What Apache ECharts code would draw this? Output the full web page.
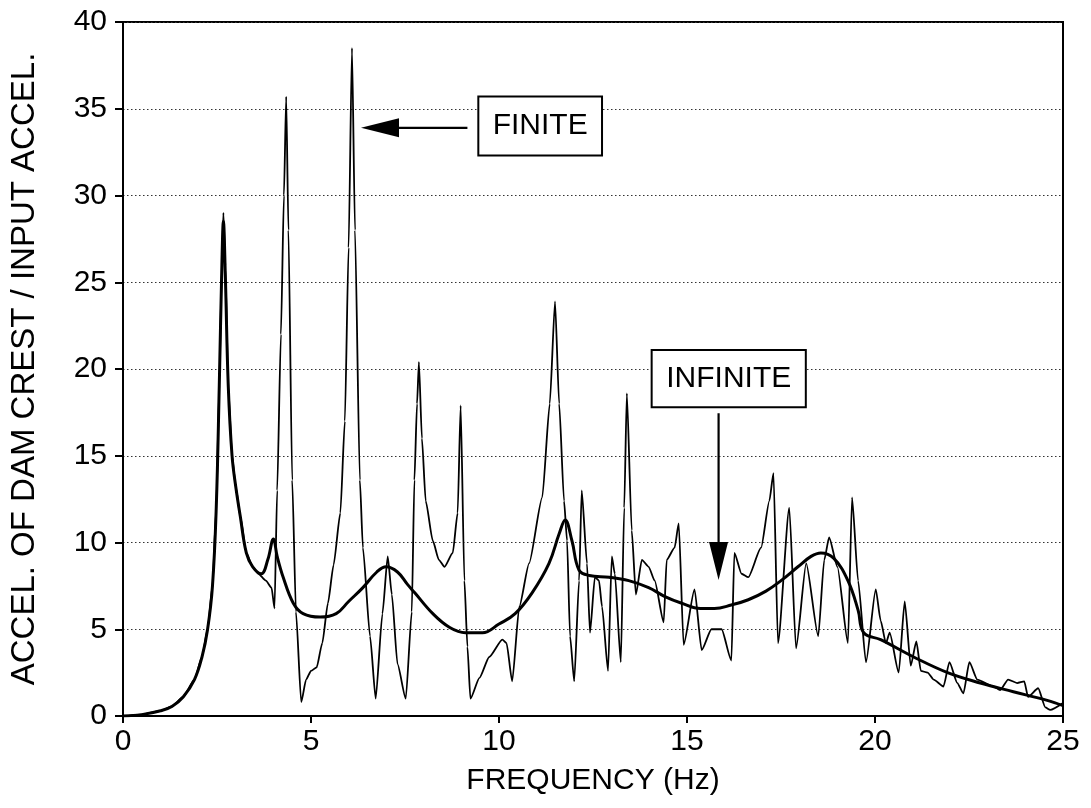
<!DOCTYPE html>
<html><head><meta charset="utf-8">
<script src="https://cdn.jsdelivr.net/npm/echarts@6/dist/echarts.min.js"></script>
<style>html,body{margin:0;padding:0;background:#fff}#c{width:1091px;height:808px}</style>
</head><body><div id="c"></div>
<script>
// ---- data ----
const finiteFreq = [0,0.5,1.0,1.3,1.6,1.9,2.1,2.25,2.38,2.48,2.56,2.63,2.67,2.72,2.8,2.9,3.0,3.12,3.28,3.45,3.6,3.8,3.95,4.03,4.1,4.2,4.28,4.34,4.4,4.5,4.6,4.74,4.87,5.0,5.15,5.3,5.45,5.6,5.78,5.9,6.0,6.09,6.17,6.3,6.38,6.57,6.72,6.9,7.04,7.15,7.3,7.52,7.68,7.75,7.82,7.87,7.95,8.05,8.24,8.4,8.55,8.77,8.9,8.98,9.08,9.16,9.24,9.48,9.74,10.09,10.2,10.35,10.54,10.8,11.15,11.35,11.49,11.6,11.73,11.81,11.89,12.0,12.13,12.2,12.34,12.42,12.55,12.66,12.74,12.9,13.0,13.08,13.24,13.33,13.4,13.53,13.64,13.8,13.98,14.14,14.38,14.46,14.67,14.78,14.91,15.2,15.39,15.65,15.92,16.18,16.26,16.45,16.63,16.97,17.19,17.3,17.42,17.72,17.9,18.17,18.49,18.65,18.78,19.0,19.28,19.39,19.55,19.76,20.02,20.15,20.29,20.39,20.63,20.79,20.95,21.1,21.22,21.4,21.56,21.82,21.98,22.19,22.35,22.51,22.72,23.15,23.33,23.54,23.78,23.97,24.07,24.34,24.53,24.66,25.0];
const finiteAmp = [0,0.08,0.3,0.55,1.1,2.1,3.4,5.0,7.5,12,19,26,29,26,19,15,13.2,11.5,9.4,8.6,8.2,7.8,7.4,6.2,13,22,30,35.7,28,13.6,6,0.8,2.1,2.6,2.8,4.2,6.5,8.7,11.7,17,27,38.5,28,13.6,9.7,4.6,1.0,5.9,9.2,7,3,1.0,6,13.6,18,20.4,16,12.4,10.1,9.0,8.6,9.4,11.7,17.9,7.8,4.0,1.0,2.2,3.4,4.4,4.2,2.0,6.3,8.8,12.6,18,23.9,18,12.4,10.1,4.6,2.0,7.8,13.0,8.8,4.8,8.0,7.8,6.3,2.6,9.2,8.2,3.1,12,18.6,10.7,7.0,9.0,8.6,7.8,5.4,9.0,9.7,11.1,4.1,7.3,3.8,5.0,5.0,3.2,9.4,8.2,8.0,9.7,12.4,14.0,4.2,12.0,3.9,8.8,4.6,9.0,10.3,8.6,4.2,12.6,7.8,3.1,7.3,5.5,4.2,4.8,2.5,6.6,2.9,4.3,2.6,2.5,2.1,1.7,3.1,1.9,1.3,3.1,2.1,1.7,1.5,2.1,1.9,2.0,1.1,1.6,0.5,0.35,0.75];
const infiniteFreq = [0,0.5,1.0,1.3,1.6,1.9,2.1,2.25,2.38,2.48,2.56,2.63,2.67,2.72,2.8,2.9,3.0,3.12,3.28,3.45,3.68,3.85,4.0,4.1,4.26,4.53,4.79,5.24,5.67,6.0,6.38,6.75,7.0,7.3,7.56,7.76,8.24,8.69,9.11,9.56,10.0,10.43,10.88,11.33,11.6,11.76,11.94,12.13,12.4,12.93,13.45,13.98,14.4,14.86,15.36,15.73,16.18,16.63,17.1,17.5,17.95,18.3,18.56,18.9,19.28,19.55,19.7,20.15,21.03,21.93,22.8,23.68,24.58,25.0];
const infiniteAmp = [0,0.08,0.3,0.55,1.1,2.1,3.4,5.0,7.5,12,19,26,28.5,25.5,19,15,13.2,11.5,9.4,8.6,8.2,9.0,10.2,9.2,8.0,6.5,5.9,5.7,5.9,6.6,7.4,8.3,8.6,8.3,7.6,7.1,5.9,5.1,4.8,4.8,5.3,5.9,7.1,8.8,10.5,11.3,10.1,8.4,8.1,8.0,7.8,7.4,6.9,6.5,6.2,6.2,6.4,6.7,7.2,7.8,8.6,9.2,9.4,9.1,7.8,6.1,4.8,4.4,3.4,2.5,1.9,1.4,0.9,0.6];
const xTickValues = [0,5,10,15,20,25];
const yTickValues = [0,5,10,15,20,25,30,35,40];
const xTitle = 'FREQUENCY (Hz)';
const yTitle = 'ACCEL. OF DAM CREST / INPUT ACCEL.';
const annotationTexts = ['FINITE','INFINITE'];

// ---- annotation placement (data coordinates) ----
const annotations = [
  {text: annotationTexts[0], box: [9.45, 35.7, 12.74, 32.3], from: [9.16, 33.9], to: [6.33, 33.9]},
  {text: annotationTexts[1], box: [14.06, 21.1, 18.16, 17.8], from: [15.84, 17.45], to: [15.84, 7.84]}
];

const FONT = "'Liberation Sans', Arial, Helvetica, sans-serif";
const zip = (a, b) => a.map((v, i) => [v, b[i]]);

const chart = echarts.init(document.getElementById('c'), null, {renderer: 'canvas'});
const option = {
  backgroundColor: '#fff',
  animation: false,
  grid: {left: 119, right: 28, top: 22, bottom: 92, show: true, borderColor: '#000', borderWidth: 2, backgroundColor: 'transparent'},
  xAxis: {
    type: 'value', min: xTickValues[0], max: xTickValues[xTickValues.length - 1], interval: xTickValues[1] - xTickValues[0],
    name: xTitle, nameLocation: 'middle', nameGap: 50,
    nameTextStyle: {fontFamily: FONT, fontSize: 30, color: '#000'},
    axisLine: {show: true, lineStyle: {color: '#000', width: 2}},
    axisTick: {show: true, inside: false, length: 7, lineStyle: {color: '#000', width: 2}},
    axisLabel: {fontFamily: FONT, fontSize: 30, color: '#000', margin: 11},
    splitLine: {show: false}
  },
  yAxis: {
    type: 'value', min: yTickValues[0], max: yTickValues[yTickValues.length - 1], interval: yTickValues[1] - yTickValues[0],
    name: yTitle, nameLocation: 'middle', nameGap: 82,
    nameTextStyle: {fontFamily: FONT, fontSize: 33, color: '#000'},
    axisLine: {show: true, lineStyle: {color: '#000', width: 2}},
    axisTick: {show: true, inside: false, length: 8, lineStyle: {color: '#000', width: 2}},
    axisLabel: {fontFamily: FONT, fontSize: 30, color: '#000', margin: 16},
    splitLine: {show: true, lineStyle: {color: '#333', width: 1.2, type: [1.5, 2.5]}}
  },
  series: [
    {name: 'FINITE', type: 'line', data: zip(finiteFreq, finiteAmp), showSymbol: false, smooth: 0.2, smoothMonotone: 'x',
      lineStyle: {color: '#000', width: 1.8}, z: 3},
    {name: 'INFINITE', type: 'line', data: zip(infiniteFreq, infiniteAmp), showSymbol: false, smooth: 0.4,
      lineStyle: {color: '#000', width: 3}, z: 4}
  ]
};
chart.setOption(option);

function px(p) { return chart.convertToPixel({gridIndex: 0}, p); }
const graphics = [];
annotations.forEach(a => {
  const tl = px([a.box[0], a.box[1]]);
  const br = px([a.box[2], a.box[3]]);
  graphics.push({type: 'rect', shape: {x: tl[0], y: tl[1], width: br[0] - tl[0], height: br[1] - tl[1]},
    style: {fill: '#fff', stroke: '#000', lineWidth: 2}, z: 100});
  graphics.push({type: 'text', x: (tl[0] + br[0]) / 2, y: (tl[1] + br[1]) / 2,
    style: {text: a.text, font: '30px ' + FONT, fill: '#000', align: 'center', verticalAlign: 'middle'}, z: 101});
  const f = px(a.from), t = px(a.to);
  const dx = t[0] - f[0], dy = t[1] - f[1];
  const len = Math.hypot(dx, dy), ux = dx / len, uy = dy / len;
  const headLen = 38, headHalf = 9.5;
  const bx = t[0] - ux * headLen, by = t[1] - uy * headLen;
  graphics.push({type: 'line', shape: {x1: f[0], y1: f[1], x2: bx, y2: by}, style: {stroke: '#000', lineWidth: 2.2}, z: 100});
  graphics.push({type: 'polygon', shape: {points: [[t[0], t[1]], [bx - uy * headHalf, by + ux * headHalf], [bx + uy * headHalf, by - ux * headHalf]]},
    style: {fill: '#000'}, z: 100});
});
chart.setOption({graphic: graphics});
</script>
</body></html>
